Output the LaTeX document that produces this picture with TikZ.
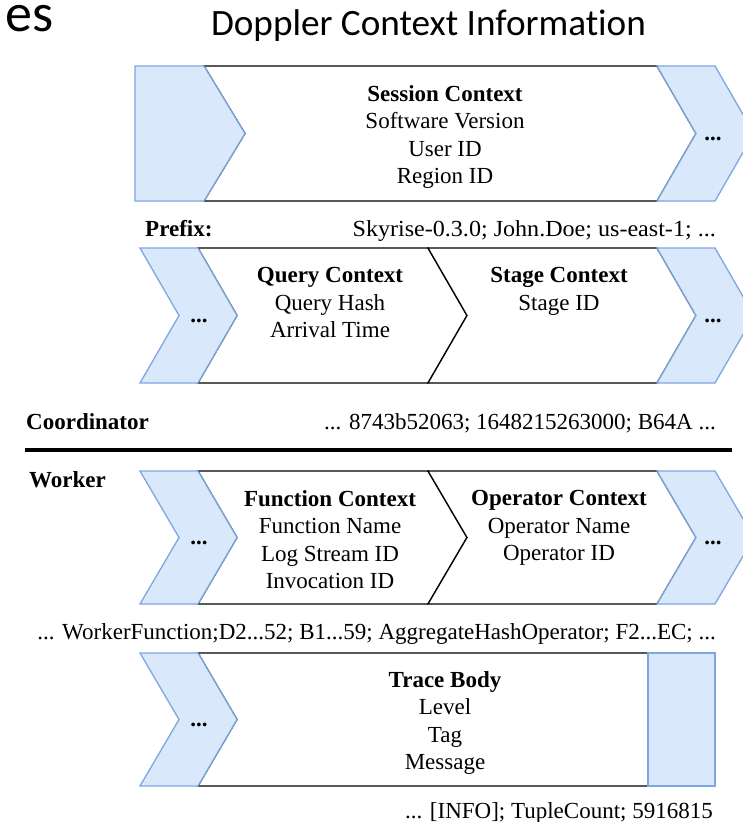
\documentclass[tikz,border=0pt]{standalone}
\usepackage{fontspec}
\setmainfont{Liberation Serif}
\newfontfamily\titlefont[Ligatures=NoCommon]{Carlito}
\definecolor{stepfill}{HTML}{DAE8FC}
\definecolor{stepline}{HTML}{7EA6E0}
\begin{document}
\begin{tikzpicture}[x=1pt,y=-1pt,
  whitestep/.style={draw=black,fill=white,line width=1.3pt,line join=miter},
  bluestep/.style={draw=stepline,fill=stepfill,line width=1.3pt,line join=miter},
  body/.style={inner sep=0pt,align=center,anchor=north,font=\fontsize{23}{27.3}\selectfont},
  lbl/.style={inner sep=0pt,anchor=base west,font=\fontsize{23}{27}\selectfont\bfseries},
  val/.style={inner sep=0pt,anchor=base east,font=\fontsize{23}{27}\selectfont},
  more/.style={inner sep=0pt,font=\fontsize{23}{27}\selectfont\bfseries}]
\useasboundingbox (0,0) rectangle (743,822);
\clip (0,0) rectangle (743,822);

% heading
\node[inner sep=0pt,anchor=base east,font=\titlefont\fontsize{54}{58}\selectfont] (es) at (54,31) {es};
\node[inner sep=0pt,anchor=base,font=\titlefont\fontsize{37.2}{40}\selectfont] (title) at (428.5,35) {Doppler Context Information};

% session context row
\draw[whitestep] (204,66) -- (657,66) -- (696,133.5) -- (657,201) -- (204,201) -- (245,133.5) -- cycle;
\draw[bluestep] (135,66) -- (204,66) -- (245,133.5) -- (204,201) -- (135,201) -- cycle;
\draw[bluestep] (657,66) -- (715,66) -- (754,133.5) -- (715,201) -- (657,201) -- (696,133.5) -- cycle;
\node[body] (session) at (445,85.5) {\textbf{Session Context}\\Software Version\\User ID\\Region ID};
\node[more] (more1) at (713,138.5) {...};

\node[lbl] (prefix) at (145,236) {Prefix:};
\node[val] (prefixval) at (716,236) {\scalebox{1.047}[1]{Skyrise-0.3.0; John.Doe; us-east-1; ...}};

% query / stage row
\draw[whitestep] (198,248) -- (428,248) -- (467,315.5) -- (428,383) -- (198,383) -- (237,315.5) -- cycle;
\draw[whitestep] (428,248) -- (657,248) -- (696,315.5) -- (657,383) -- (428,383) -- (467,315.5) -- cycle;
\draw[bluestep] (140,248) -- (198,248) -- (237,315.5) -- (198,383) -- (140,383) -- (179,315.5) -- cycle;
\draw[bluestep] (657,248) -- (715,248) -- (754,315.5) -- (715,383) -- (657,383) -- (696,315.5) -- cycle;
\node[body] (query) at (330,267.5) {\textbf{Query Context}\\Query Hash\\Arrival Time};
\node[body] (stage) at (559,267.5) {\textbf{Stage Context}\\Stage ID};
\node[more] (more2l) at (199,320.5) {...};
\node[more] (more2r) at (713,320.5) {...};

\node[lbl] (coord) at (26,429) {Coordinator};
\node[val] (coordval) at (716,429) {... 8743b52063; 1648215263000; B64A ...};

% separator between coordinator and worker
\coordinate (ruleL) at (25,450);
\coordinate (ruleR) at (732,450);
\draw[line width=3.5pt] (ruleL) -- (ruleR);

\node[lbl] (worker) at (29,487) {Worker};

% function / operator row
\draw[whitestep] (198,471) -- (428,471) -- (467,537.5) -- (428,604) -- (198,604) -- (237,537.5) -- cycle;
\draw[whitestep] (428,471) -- (657,471) -- (696,537.5) -- (657,604) -- (428,604) -- (467,537.5) -- cycle;
\draw[bluestep] (140,471) -- (198,471) -- (237,537.5) -- (198,604) -- (140,604) -- (179,537.5) -- cycle;
\draw[bluestep] (657,471) -- (715,471) -- (754,537.5) -- (715,604) -- (657,604) -- (696,537.5) -- cycle;
\node[body] (function) at (330,490.5) {\textbf{Function Context}\\Function Name\\Log Stream ID\\Invocation ID};
\node[body] (operator) at (559,490.5) {\textbf{Operator Context}\\Operator Name\\Operator ID};
\node[more] (more3l) at (199,542.5) {...};
\node[more] (more3r) at (713,542.5) {...};

\node[val] (workerval) at (716,639) {... WorkerFunction;D2...52; B1...59; AggregateHashOperator; F2...EC; ...};

% trace body row
\draw[whitestep] (198,653) -- (648,653) -- (648,786) -- (198,786) -- (237,719.5) -- cycle;
\draw[bluestep] (140,653) -- (198,653) -- (237,719.5) -- (198,786) -- (140,786) -- (179,719.5) -- cycle;
\draw[bluestep] (648,653) rectangle (715,786);
\node[body] (trace) at (445,671.5) {\textbf{Trace Body}\\Level\\Tag\\Message};
\node[more] (more4l) at (199,724.5) {...};

\node[val] (traceval) at (713,818) {... [INFO]; TupleCount; 5916815};
\end{tikzpicture}
\end{document}
